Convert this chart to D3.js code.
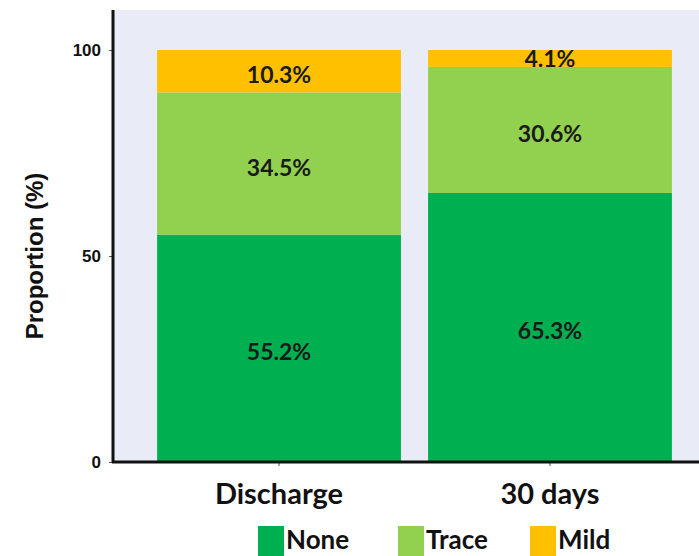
<!DOCTYPE html>
<html>
<head>
<meta charset="utf-8">
<script src="https://cdn.jsdelivr.net/npm/d3@7"></script>
<style>
  html, body { margin: 0; padding: 0; background: #ffffff; }
  svg { display: block; }
</style>
</head>
<body>
<svg id="chart" width="699" height="556"></svg>
<script>
// Categories, series and their values (percent)
const categories = ["Discharge", "30 days"];
const seriesNames = ["None", "Trace", "Mild"];
const noneValues = [55.2, 65.3];
const traceValues = [34.5, 30.6];
const mildValues = [10.3, 4.1];
const yTicks = [0, 50, 100];
const seriesColors = ["#00b050", "#92d050", "#ffc000"];

const svg = d3.select("#chart");
const plot = { left: 113, right: 699, top: 10, bottom: 462 };

const rows = categories.map((c, i) => ({
  category: c, None: noneValues[i], Trace: traceValues[i], Mild: mildValues[i]
}));
const stacked = d3.stack().keys(seriesNames)(rows);

const x = d3.scaleBand().domain(categories)
  .range([130, plot.right]).paddingInner(0.1).paddingOuter(0.1);
const y = d3.scaleLinear().domain([0, 100]).range([plot.bottom, 50]);

// plot background
svg.append("rect")
  .attr("x", plot.left).attr("y", plot.top)
  .attr("width", plot.right - plot.left).attr("height", plot.bottom - plot.top)
  .attr("fill", "#e9ecf6");

// stacked bars
const layers = svg.append("g").selectAll("g").data(stacked).join("g")
  .attr("fill", (d, i) => seriesColors[i]);
layers.selectAll("rect").data(d => d).join("rect")
  .attr("x", d => x(d.data.category))
  .attr("width", x.bandwidth())
  .attr("y", d => y(d[1]))
  .attr("height", d => y(d[0]) - y(d[1]));

// value labels
const labelFont = "Lato, 'Open Sans', sans-serif";
stacked.forEach(layer => {
  layer.forEach(d => {
    const v = d[1] - d[0];
    svg.append("text")
      .attr("x", x(d.data.category) + x.bandwidth() / 2)
      .attr("y", (y(d[0]) + y(d[1])) / 2 + 8 + (v < 6 ? 1 : 4))
      .attr("text-anchor", "middle")
      .attr("font-family", labelFont)
      .attr("font-weight", "bold")
      .attr("font-size", 23)
      .attr("fill", "#1a1a1a")
      .text(v.toFixed(1) + "%");
  });
});

// y axis
const yAxis = svg.append("g")
  .attr("transform", `translate(${plot.left},0)`)
  .call(d3.axisLeft(y).tickValues(yTicks).tickSize(4).tickPadding(8));
yAxis.select(".domain").remove();
yAxis.selectAll("line").attr("stroke", "#555");
yAxis.selectAll("text")
  .attr("font-family", "'Liberation Sans', Arial, sans-serif")
  .attr("font-weight", "bold").attr("font-size", 17).attr("fill", "#111");
svg.append("line")
  .attr("x1", plot.left).attr("x2", plot.left)
  .attr("y1", plot.top).attr("y2", plot.bottom + 1)
  .attr("stroke", "#111").attr("stroke-width", 3);

// x axis
const xAxis = svg.append("g")
  .attr("transform", `translate(0,${plot.bottom})`)
  .call(d3.axisBottom(x).tickSize(4).tickPadding(17));
xAxis.select(".domain").remove();
xAxis.selectAll("line").attr("stroke", "#555");
xAxis.selectAll("text")
  .attr("font-family", labelFont)
  .attr("font-weight", "bold").attr("font-size", 29).attr("fill", "#111");
svg.append("line")
  .attr("x1", plot.left - 1).attr("x2", plot.right)
  .attr("y1", plot.bottom).attr("y2", plot.bottom)
  .attr("stroke", "#111").attr("stroke-width", 3);

// y axis title
svg.append("text")
  .attr("transform", `translate(43,${(plot.top + plot.bottom) / 2 + 20}) rotate(-90)`)
  .attr("text-anchor", "middle")
  .attr("font-family", "'Liberation Sans', Arial, sans-serif")
  .attr("font-weight", "bold").attr("font-size", 24).attr("fill", "#111")
  .text("Proportion (%)");

// legend
const legendX = [258, 398, 530];
const legend = svg.append("g").selectAll("g").data(seriesNames).join("g")
  .attr("transform", (d, i) => `translate(${legendX[i]},526)`);
legend.append("rect")
  .attr("width", 26).attr("height", 30)
  .attr("fill", (d, i) => seriesColors[i]);
legend.append("text")
  .attr("x", 28).attr("y", 23)
  .attr("font-family", labelFont)
  .attr("font-weight", "bold").attr("font-size", 26).attr("fill", "#111")
  .text(d => d);
</script>
</body>
</html>
